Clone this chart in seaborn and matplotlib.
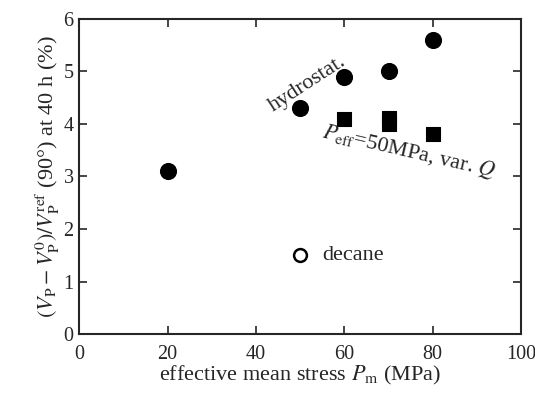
import matplotlib
matplotlib.use("Agg")
import matplotlib.pyplot as plt
import seaborn as sns
import pandas as pd

# hydrostatic series
hyd_p = [20, 50, 60, 70, 80]
hyd_v = [3.1, 4.3, 4.9, 5.0, 5.6]
# P_eff = 50 MPa, variable Q
peff_p = [60, 70, 70, 80]
peff_v = [4.1, 4.12, 4.0, 3.8]
# decane
dec_p = [50]
dec_v = [1.5]

sns.set_style('ticks')
plt.rcParams['font.family'] = ['Liberation Serif', 'DejaVu Serif']
plt.rcParams['mathtext.fontset'] = 'stix'
plt.rcParams['xtick.direction'] = 'in'
plt.rcParams['ytick.direction'] = 'in'

fig = plt.figure(figsize=(5.35, 3.93), dpi=100)
ax = fig.add_axes([0.148, 0.150, 0.826, 0.802])

df_h = pd.DataFrame({"P": hyd_p, "v": hyd_v})
df_q = pd.DataFrame({"P": peff_p, "v": peff_v})
df_d = pd.DataFrame({"P": dec_p, "v": dec_v})

sns.scatterplot(data=df_h, x="P", y="v", marker="o", s=130, color="black",
                edgecolor="black", ax=ax, zorder=3)
sns.scatterplot(data=df_q, x="P", y="v", marker="s", s=95, color="black",
                edgecolor="black", ax=ax, zorder=3)
sns.scatterplot(data=df_d, x="P", y="v", marker="o", s=85, facecolor="white",
                edgecolor="black", linewidth=1.8, ax=ax, zorder=3)

ax.set_xlim(0, 100)
ax.set_ylim(0, 6)
ax.set_xticks([0, 20, 40, 60, 80, 100])
ax.set_yticks([0, 1, 2, 3, 4, 5, 6])
ax.tick_params(labelsize=14.5, length=6, width=1.2, top=True, right=True)
ax.tick_params(axis="x", pad=8)
ax.tick_params(axis="y", pad=4)
for s in ax.spines.values():
    s.set_linewidth(1.5)

ax.set_xlabel(r"effective mean stress $P_\mathrm{m}$ (MPa)", fontsize=16, labelpad=0)
ax.set_ylabel(r"$(V_\mathrm{P}-V_\mathrm{P}^{0})/V_\mathrm{P}^\mathrm{ref}$ (90°) at 40 h (%)",
              fontsize=16, labelpad=1)

ax.text(51.6, 4.76, "hydrostat.", rotation=33, fontsize=16,
        ha="center", va="center", rotation_mode="anchor")
ax.text(74.5, 3.48, r"$P_\mathrm{eff}$=50MPa, var. $Q$", rotation=-13, fontsize=16,
        ha="center", va="center", rotation_mode="anchor")
ax.text(55, 1.5, "decane", fontsize=16, ha="left", va="center")

fig.savefig("out.png", dpi=100)
